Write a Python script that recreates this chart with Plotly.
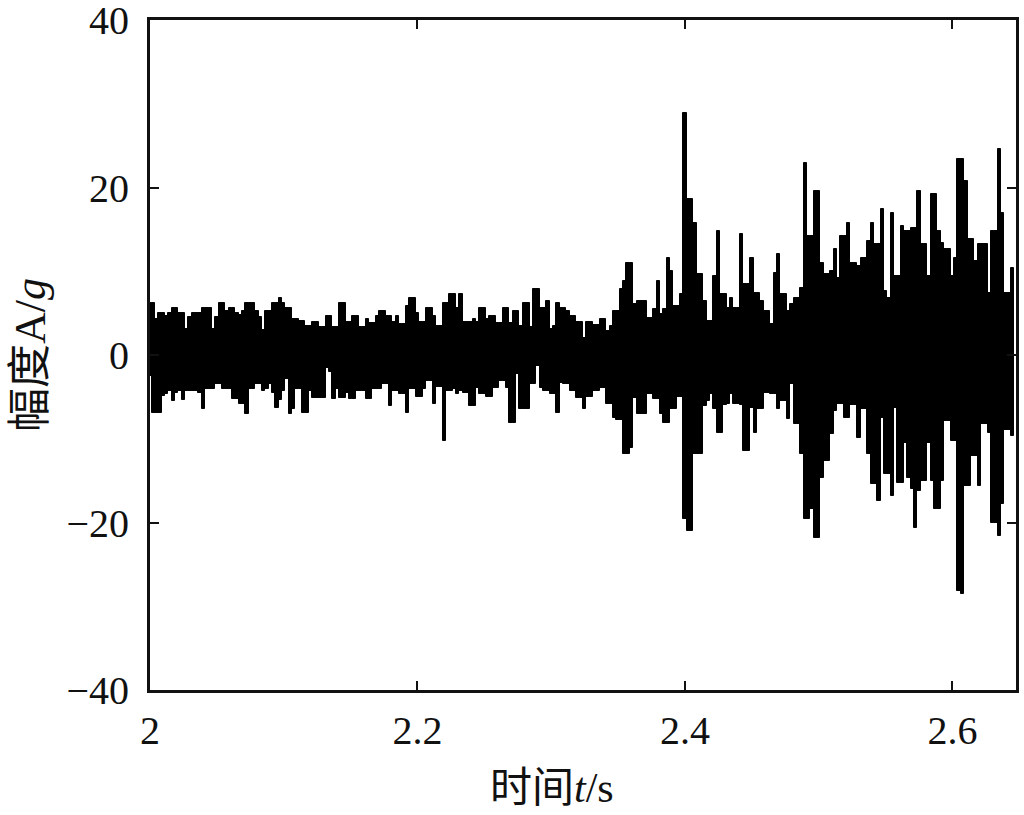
import plotly.graph_objects as go

# Sample times (s): start and step of the displayed samples
t_start = 2.0
dt = 0.0025

# Upper excursions of the signal (g)
upper = [
    6.2, 6.2, 4.3, 5.0, 5.0, 4.6, 5.0, 5.6, 5.6, 5.0,
    5.0, 3.1, 4.5, 5.0, 5.0, 5.0, 5.6, 5.6, 5.6, 3.1,
    4.5, 6.2, 6.2, 5.3, 5.6, 5.6, 5.0, 4.8, 5.3, 6.2,
    6.2, 6.2, 5.3, 4.5, 3.0, 5.3, 5.3, 6.2, 6.2, 6.8,
    6.2, 5.6, 5.6, 4.3, 4.3, 4.1, 4.1,
    3.5, 3.5, 4.0, 4.0, 3.3, 3.3, 4.7, 4.7, 3.3, 3.3,
    6.2, 6.2, 4.0, 4.0, 4.7, 4.7, 3.3, 3.3, 4.3, 3.8,
    3.8, 4.7, 5.3, 5.3, 4.7, 4.7, 4.0, 4.7, 3.7, 3.7,
    5.8, 6.8, 6.8, 5.0, 4.0, 4.0, 5.6, 5.6, 4.7, 3.5,
    3.5, 6.2, 6.2, 7.3, 7.3, 5.6,
    7.3, 4.0, 4.0, 4.0, 4.3, 4.0, 5.6, 5.6, 4.3, 4.7,
    4.7, 3.8, 3.8, 5.6, 5.6, 3.8, 5.3, 5.3, 3.5, 6.2,
    6.2, 3.3, 7.9, 7.9, 5.6, 5.6, 6.4, 3.1, 3.5, 6.2,
    5.6, 5.6, 5.3, 4.7, 4.7, 4.0, 4.0, 2.0, 4.0, 4.0,
    3.6, 3.6, 4.3, 4.3, 2.9, 3.5,
    5.3, 5.3, 7.9, 8.8, 11.0, 11.0, 6.1, 6.4, 6.4, 6.4,
    4.4, 4.4, 5.5, 8.8, 4.9, 5.5, 11.6, 10.0, 5.8, 5.8,
    7.3, 28.9, 18.6, 18.6, 15.8, 9.7, 9.7, 6.4, 4.1, 4.1,
    9.4, 14.8, 7.3, 7.3, 5.6, 6.8, 5.6, 5.6, 14.4, 8.5, 8.5,
    11.6, 7.4, 7.4, 6.4, 5.3, 5.3, 3.7, 9.8, 12.1, 7.3,
    7.3, 5.3, 6.1, 6.8, 6.8, 8.0, 22.9, 14.2, 14.2, 19.6,
    19.6, 11.0, 9.7, 9.7, 10.0, 12.7, 9.2, 14.2, 14.2, 15.8,
    11.0, 11.0, 10.6, 11.6, 11.6, 13.6, 15.8, 13.3, 13.3, 17.4,
    7.6, 6.8, 17.0, 9.4, 9.4, 15.4, 14.8, 14.8, 15.2, 15.2,
    19.6, 13.3, 13.3, 9.4, 19.2, 19.2, 14.8, 13.4, 12.7, 12.7,
    9.4, 11.6, 23.4, 23.4, 20.8, 13.9, 13.9, 11.2, 13.3, 13.3,
    13.3, 7.4, 14.8, 14.8, 24.6, 17.0, 7.4, 7.4, 10.4,
]

# Lower excursions of the signal (g)
lower = [
    -2.5, -6.9, -6.9, -6.9, -4.9, -4.6, -4.3, -5.5, -4.5, -4.3,
    -5.4, -4.3, -4.3, -4.3, -4.3, -4.5, -6.4, -4.1, -4.1, -4.1,
    -3.5, -3.5, -4.1, -4.1, -4.1, -5.2, -5.2, -5.9, -5.9, -7.0,
    -4.0, -4.0, -3.5, -3.5, -4.3, -4.0, -3.5, -4.5, -6.3, -5.4,
    -4.3, -2.9, -7.0, -6.5, -4.1, -4.1, -6.9,
    -6.9, -4.3, -5.1, -5.1, -5.1, -5.1, -1.5, -2.0, -5.3, -4.1,
    -5.1, -5.1, -4.5, -5.3, -5.3, -4.3, -4.3, -4.3, -5.3, -5.3,
    -4.0, -4.0, -4.0, -3.5, -3.5, -6.1, -4.3, -4.3, -4.7, -4.7,
    -6.9, -4.0, -4.0, -5.0, -5.0, -4.1, -3.1, -3.1, -5.9, -3.8,
    -3.8, -10.3, -4.3, -4.3, -4.1, -4.7,
    -4.3, -4.5, -4.5, -6.1, -6.1, -3.9, -4.7, -4.7, -5.0, -5.0,
    -3.9, -3.9, -3.1, -3.1, -3.9, -8.1, -8.1, -2.3, -6.4, -6.4,
    -6.4, -3.5, -3.5, -1.3, -3.9, -4.3, -4.3, -4.7, -4.7, -6.9,
    -3.3, -3.5, -3.5, -4.3, -4.3, -5.1, -5.1, -6.4, -5.0, -5.0,
    -4.3, -4.3, -3.9, -3.9, -5.9, -5.9,
    -7.5, -7.8, -7.8, -11.8, -11.8, -11.1, -5.1, -7.0, -7.0, -7.0,
    -4.7, -4.7, -5.3, -5.3, -7.0, -8.1, -8.1, -6.4, -6.4, -5.0,
    -5.0, -19.6, -21.0, -21.0, -11.8, -11.8, -11.8, -6.1, -5.5, -4.7,
    -6.5, -9.3, -9.3, -6.0, -5.9, -4.7, -5.9, -5.9, -6.0, -11.5, -11.5,
    -6.3, -9.3, -6.4, -6.4, -4.5, -4.5, -4.7, -4.7, -6.4, -5.5,
    -5.5, -7.6, -3.5, -8.2, -8.2, -11.8, -19.6, -19.6, -18.4, -21.8,
    -21.8, -14.7, -12.7, -12.7, -9.4, -6.7, -5.9, -5.9, -7.5, -7.5,
    -6.0, -6.0, -9.9, -6.4, -6.4, -11.8, -15.4, -15.4, -17.4, -7.5,
    -14.2, -14.2, -16.8, -6.3, -15.3, -15.3, -10.5, -14.7, -16.0, -20.7,
    -16.2, -15.0, -15.0, -10.5, -15.0, -18.4, -18.4, -15.0, -7.9, -7.9,
    -10.3, -10.3, -28.2, -28.5, -15.6, -15.6, -12.1, -12.1, -15.6, -8.2,
    -8.2, -9.3, -20.1, -20.1, -21.6, -17.8, -8.9, -8.9, -9.7,
]

x_tickvals = [2.0, 2.2, 2.4, 2.6]
x_ticktext = ["2", "2.2", "2.4", "2.6"]
y_tickvals = [-40, -20, 0, 20, 40]
y_ticktext = ["\u221240", "\u221220", "0", "20", "40"]

assert len(upper) == len(lower)
n = len(upper)
t = [round(t_start + k * dt, 5) for k in range(n)]
span = [u - l for u, l in zip(upper, lower)]

FONT = "Liberation Serif, Noto Sans CJK SC, serif"

fig = go.Figure(
    go.Bar(
        x=t, y=span, base=lower, width=dt,
        marker=dict(color="black", line=dict(color="black", width=1)),
        hoverinfo="skip",
    )
)

axis_common = dict(
    showline=True, linecolor="#111111", linewidth=3, mirror="ticks",
    ticks="inside", ticklen=9, tickwidth=2, tickcolor="#111111",
    showgrid=False, zeroline=False, automargin=False,
    ticklabeloverflow="allow",
    tickfont=dict(family=FONT, size=40, color="#111111"),
)

fig.update_layout(
    width=1024, height=815,
    margin=dict(l=150, r=8, t=20, b=125),
    paper_bgcolor="white", plot_bgcolor="white",
    showlegend=False, bargap=0,
    font=dict(family=FONT, color="#111111"),
    xaxis=dict(range=[2.0, 2.6475], tickvals=x_tickvals, ticktext=x_ticktext,
               ticklabelstandoff=3, **axis_common),
    yaxis=dict(range=[-40, 40], tickvals=y_tickvals, ticktext=y_ticktext,
               ticklabelstandoff=10, **axis_common),
    annotations=[
        dict(text="幅度A/<i>g</i>", xref="paper", yref="paper",
             x=-0.1386, y=0.5, textangle=-90, showarrow=False,
             xanchor="center", yanchor="middle",
             font=dict(family=FONT, size=44, color="#111111")),
        dict(text="时间<i>t</i>/s", xref="paper", yref="paper",
             x=0.464, y=-0.146, showarrow=False,
             xanchor="center", yanchor="middle",
             font=dict(family=FONT, size=42, color="#111111")),
    ],
)

fig.write_html(
    "out.html",
    config={"displayModeBar": False},
    post_script="document.body.style.margin='0';document.body.style.overflow='hidden';",
)
